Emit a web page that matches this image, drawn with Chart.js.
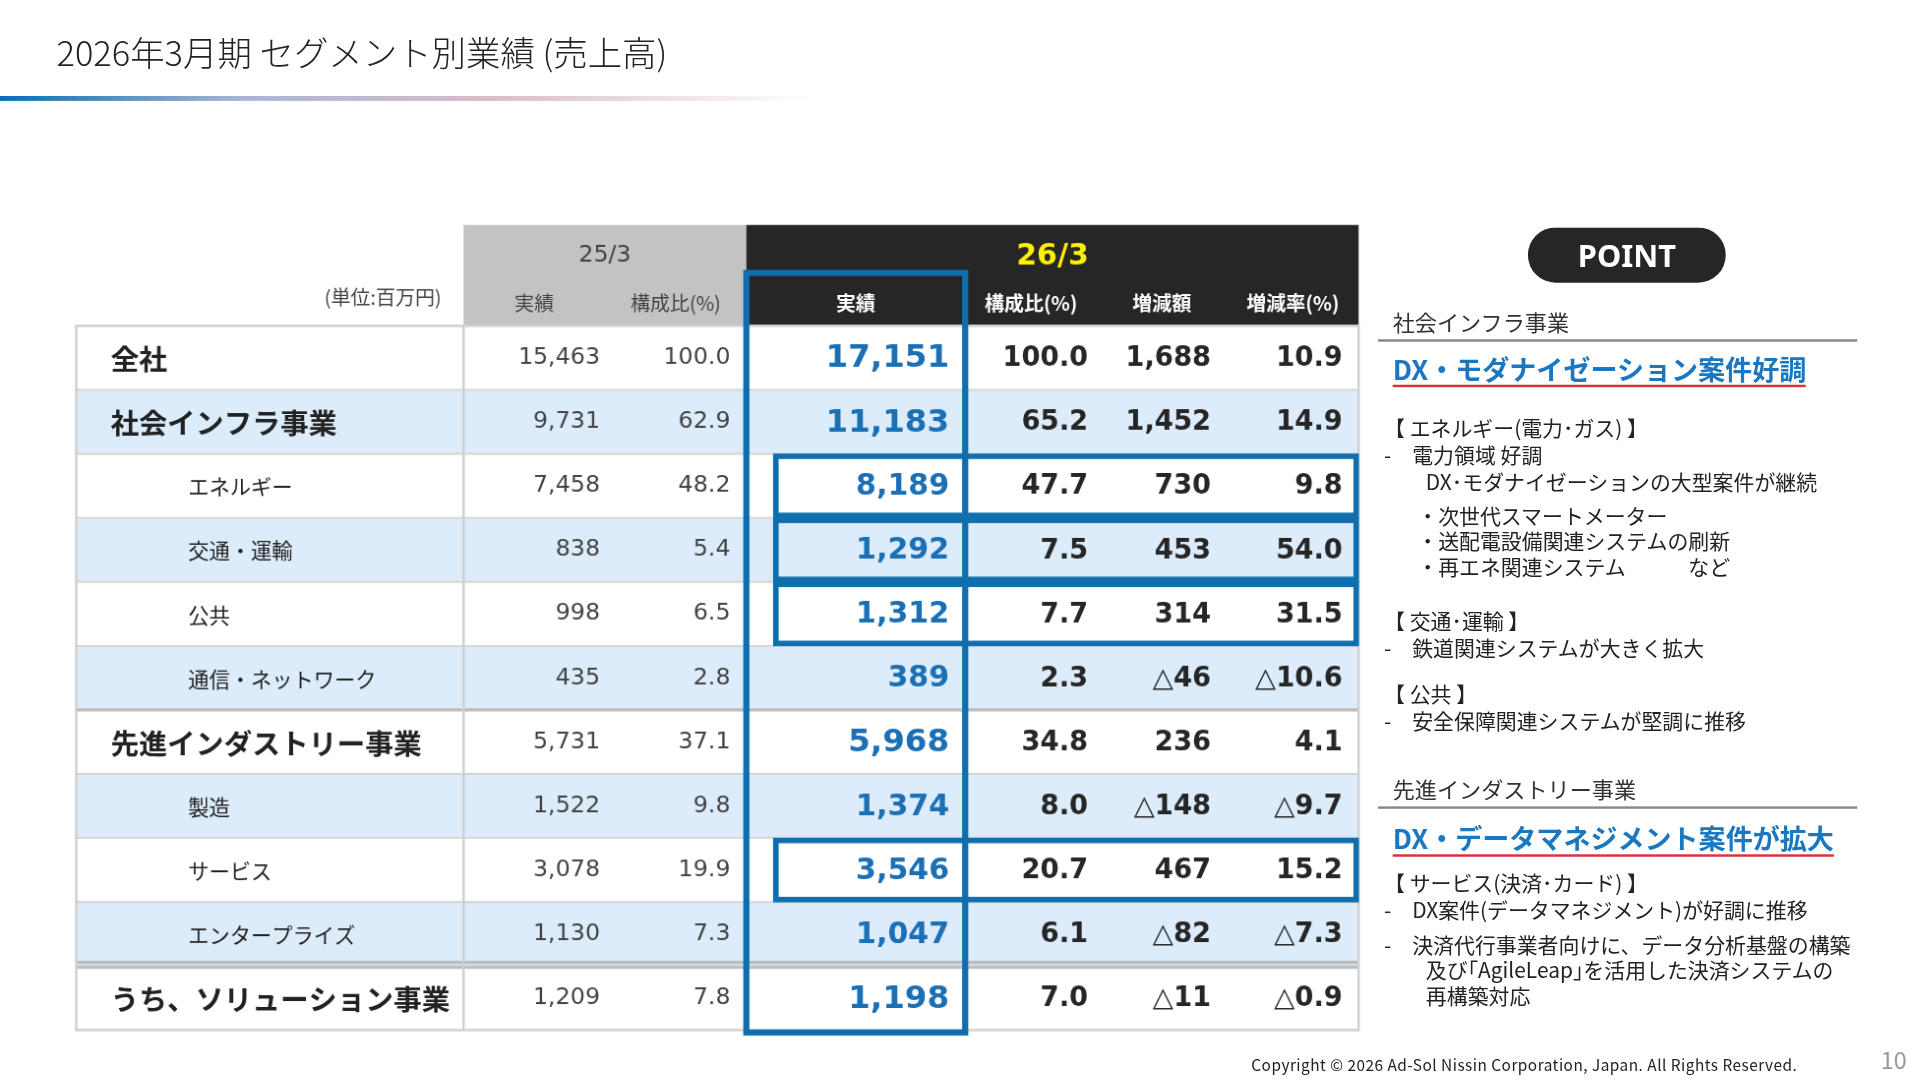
<!DOCTYPE html>
<html><head><meta charset="utf-8">
<script src="https://cdn.jsdelivr.net/npm/chart.js@4.4.1/dist/chart.umd.min.js"></script>
<style>
html,body{margin:0;padding:0;background:#fff;overflow:hidden}
#stage{position:absolute;left:0;top:0;width:1562px;height:880px;transform:scale(1.2292);transform-origin:0 0;font-family:"Noto Sans CJK JP","Noto Sans",sans-serif;color:#333}
#stage canvas{position:absolute;left:0;top:0}
.t{position:absolute;white-space:nowrap}
</style></head><body>
<div id="stage">
<canvas id="c" width="1562" height="880" style="width:1562px;height:880px"></canvas>
<div class="t" style="left:46px;top:22px;font-size:28px;font-weight:300;color:#222">2026年3月期 セグメント別業績 (売上高)</div>
<div style="position:absolute;left:0;top:78px;width:660px;height:4px;background:linear-gradient(90deg,#0a6fb0 0%,#a9b6d6 30%,#d8bcc8 60%,#fff 100%)"></div>
<div style="position:absolute;left:1243px;top:185px;width:161px;height:45px;border-radius:23px;background:#262626;color:#fff;font:bold 25px 'Noto Sans',sans-serif;text-align:center;line-height:45px">POINT</div>
<div class="t" style="left:1133px;top:248px;font-size:18px;color:#333">社会インフラ事業</div>
<div style="position:absolute;left:1121px;top:276px;width:390px;height:1.5px;background:#888"></div>
<div class="t" style="left:1133px;top:285px;font-size:22px;font-weight:bold;color:#1a77c0;border-bottom:2px solid #d9333a;line-height:28px">DX・モダナイゼーション案件好調</div>
<div class="t" style="left:1126px;top:337px;font-size:17px;line-height:22px;color:#222">【 エネルギー(電力･ガス) 】<br>-　電力領域 好調<br>　　DX･モダナイゼーションの大型案件が継続</div>
<div class="t" style="left:1153px;top:408px;font-size:17px;line-height:21px;color:#222">・次世代スマートメーター<br>・送配電設備関連システムの刷新<br>・再エネ関連システム　　　など</div>
<div class="t" style="left:1126px;top:494px;font-size:17px;line-height:22px;color:#222">【 交通･運輸 】<br>-　鉄道関連システムが大きく拡大</div>
<div class="t" style="left:1126px;top:553px;font-size:17px;line-height:22px;color:#222">【 公共 】<br>-　安全保障関連システムが堅調に推移</div>
<div class="t" style="left:1133px;top:628px;font-size:18px;color:#333">先進インダストリー事業</div>
<div style="position:absolute;left:1121px;top:656px;width:390px;height:1.5px;background:#888"></div>
<div class="t" style="left:1133px;top:667px;font-size:22px;font-weight:bold;color:#1a77c0;border-bottom:2px solid #d9333a;line-height:28px">DX・データマネジメント案件が拡大</div>
<div class="t" style="left:1126px;top:707px;font-size:17px;line-height:22px;color:#222">【 サービス(決済･カード) 】<br>-　DX案件(データマネジメント)が好調に推移</div>
<div class="t" style="left:1126px;top:757px;font-size:17px;line-height:21px;color:#222">-　決済代行事業者向けに、データ分析基盤の構築<br>　　及び｢AgileLeap｣を活用した決済システムの<br>　　再構築対応</div>
<div class="t" style="left:1018px;top:856px;font-size:12.5px;letter-spacing:0.4px;color:#222">Copyright © 2026 Ad-Sol Nissin Corporation, Japan. All Rights Reserved.</div>
<div class="t" style="left:1530px;top:848px;font-size:19px;color:#999">10</div>
</div>
<script>
const segments=["全社","社会インフラ事業","エネルギー","交通・運輸","公共","通信・ネットワーク","先進インダストリー事業","製造","サービス","エンタープライズ","うち、ソリューション事業"];
const prevSales=["15,463","9,731","7,458","838","998","435","5,731","1,522","3,078","1,130","1,209"];
const prevRatio=["100.0","62.9","48.2","5.4","6.5","2.8","37.1","9.8","19.9","7.3","7.8"];
const curSales=["17,151","11,183","8,189","1,292","1,312","389","5,968","1,374","3,546","1,047","1,198"];
const curRatio=["100.0","65.2","47.7","7.5","7.7","2.3","34.8","8.0","20.7","6.1","7.0"];
const diffAmt=["1,688","1,452","730","453","314","△46","236","△148","467","△82","△11"];
const diffRate=["10.9","14.9","9.8","54.0","31.5","△10.6","4.1","△9.7","15.2","△7.3","△0.9"];
const curNum=[17151,11183,8189,1292,1312,389,5968,1374,3546,1047,1198];
const majorRows=[0,1,6,10];
const highlightRows=[2,3,4,8];
const prevHead="25/3", curHead="26/3", unitLabel="(単位:百万円)";
const subHeads=["実績","構成比(%)","実績","構成比(%)","増減額","増減率(%)"];

const edges=[0,315,430,545,723,830,936,1043];
const F="'Noto Sans CJK JP','Noto Sans',sans-serif";
const N="'DejaVu Sans','Noto Sans CJK JP',sans-serif";
const tablePlugin={id:'table',
beforeDatasetsDraw(ch){
 const {ctx,scales:{x,y},chartArea:a}=ch;
 const X=v=>x.getPixelForValue(v);
 const rh=(a.bottom-a.top)/segments.length;
 ctx.save();
 segments.forEach((s,i)=>{
   const cy=y.getPixelForValue(i);
   ctx.fillStyle=(i%2===1)?'#dcecfa':'#fff';
   ctx.fillRect(a.left,cy-rh/2,a.right-a.left,rh);
 });
 const hTop=a.top-82, hMid=a.top-43;
 ctx.fillStyle='#c3c3c3';ctx.fillRect(X(edges[1]),hTop,X(edges[3])-X(edges[1]),82);
 ctx.fillStyle='#262626';ctx.fillRect(X(edges[3]),hTop,X(edges[7])-X(edges[3]),82);
 ctx.strokeStyle='#d4d4d4';ctx.lineWidth=1.5;
 for(let i=1;i<segments.length;i++){
   const yy=a.top+i*rh;ctx.beginPath();ctx.moveTo(a.left,yy);ctx.lineTo(a.right,yy);ctx.stroke();
 }
 ctx.strokeStyle='#bdbdbd';ctx.lineWidth=2.5;
 let yy=a.top+6*rh;ctx.beginPath();ctx.moveTo(a.left,yy);ctx.lineTo(a.right,yy);ctx.stroke();
 yy=a.top+10*rh;ctx.beginPath();ctx.moveTo(a.left,yy-3);ctx.lineTo(a.right,yy-3);ctx.moveTo(a.left,yy+1);ctx.lineTo(a.right,yy+1);ctx.stroke();
 ctx.strokeStyle='#d0d0d0';ctx.lineWidth=2;
 ctx.strokeRect(a.left,a.top,a.right-a.left,a.bottom-a.top);
 [1,3].forEach(e=>{ctx.beginPath();ctx.moveTo(X(edges[e]),a.top);ctx.lineTo(X(edges[e]),a.bottom);ctx.stroke();});
 ctx.textBaseline='middle';
 ctx.fillStyle='#444';ctx.font='19px '+N;ctx.textAlign='center';
 ctx.fillText(prevHead,(X(edges[1])+X(edges[3]))/2,hTop+25);
 ctx.font='bold 24px '+N;ctx.fillStyle='#ffef00';
 ctx.fillText(curHead,(X(edges[3])+X(edges[7]))/2,hTop+26);
 subHeads.forEach((h,k)=>{
   ctx.font=(k<2?'':'bold ')+'16px '+F;ctx.fillStyle=k<2?'#444':'#fff';
   ctx.fillText(h,(X(edges[k+1])+X(edges[k+2]))/2,hMid+25);
 });
 ctx.textAlign='right';ctx.fillStyle='#444';ctx.font='16px '+F;
 ctx.fillText(unitLabel,X(edges[1])-18,hMid+20);
 segments.forEach((s,i)=>{
   const cy=y.getPixelForValue(i), big=majorRows.includes(i);
   ctx.textAlign='left';ctx.fillStyle='#222';
   ctx.font=big?'bold 23px '+F:'17px '+F;
   ctx.fillText(s,a.left+(big?28:91),cy+1);
   ctx.textAlign='right';ctx.fillStyle='#444';ctx.font='19px '+N;
   ctx.fillText(prevSales[i],X(edges[2])-4,cy);
   ctx.fillText(prevRatio[i],X(edges[3])-13,cy);
   ctx.fillStyle='#1a6fb5';ctx.font=(big?'bold 26px ':'bold 24px ')+N;
   ctx.fillText(curSales[i],X(edges[4])-13,cy+1);
   ctx.fillStyle='#262626';ctx.font='bold 22px '+N;
   ctx.fillText(curRatio[i],X(edges[5])-7,cy+1);
   ctx.fillText(diffAmt[i],X(edges[6])-13,cy+1);
   ctx.fillText(diffRate[i],X(edges[7])-13,cy+1);
 });
 ctx.strokeStyle='#0f6fae';ctx.lineWidth=4.5;
 highlightRows.forEach(i=>{
   const cy=y.getPixelForValue(i);
   ctx.strokeRect(X(edges[3])+24,cy-rh/2+2,X(edges[7])-X(edges[3])-26,rh-4);
 });
 ctx.lineWidth=5;
 ctx.strokeRect(X(edges[3]),a.top-43,X(edges[4])-X(edges[3]),a.bottom-a.top+45);
 ctx.restore();
}};
new Chart(document.getElementById('c'),{
 type:'bar',
 data:{labels:segments,datasets:[{data:curNum,backgroundColor:'rgba(0,0,0,0)',borderWidth:0}]},
 options:{indexAxis:'y',responsive:false,animation:false,devicePixelRatio:1.25,
  layout:{padding:{left:62,right:457,top:265,bottom:42}},
  plugins:{legend:{display:false},tooltip:{enabled:false}},
  scales:{x:{type:'linear',min:0,max:1043,display:false},y:{type:'category',display:false,offset:true}}},
 plugins:[tablePlugin]
});
</script></body></html>
